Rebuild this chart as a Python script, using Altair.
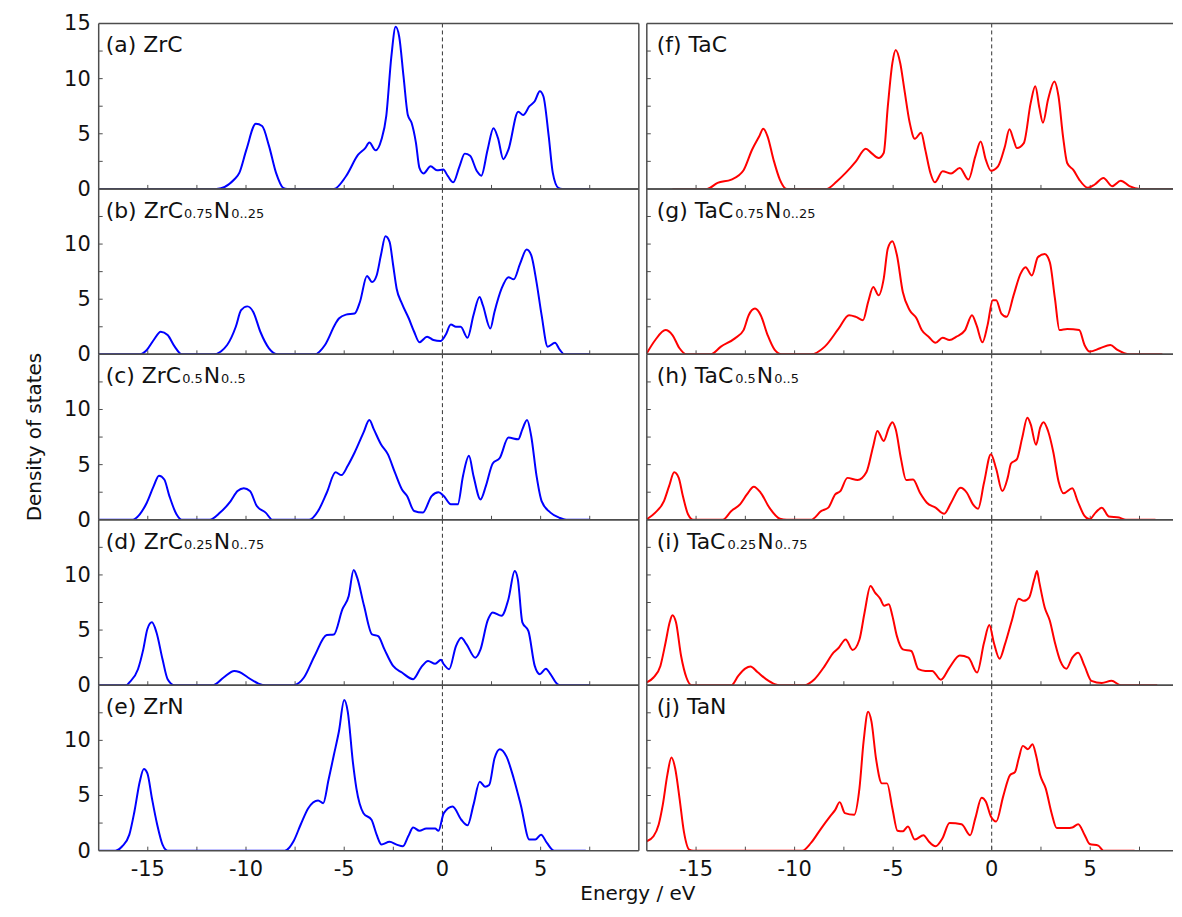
import altair as alt
import pandas as pd

FONT = "DejaVu Sans"
FRAME = "#4d4d4d"
TXT = "#111111"

# ---------------- data (Energy / eV, Density of states) ----------------
ZrC_E = [-17.5, -11.5, -10.6, -10.34, -9.98, -9.5, -9.18, -8.83, -8.47, -8.11, -7.9, -5.53, -4.91, -4.29,
         -3.93, -3.72, -3.4, -3.1, -2.86, -2.6, -2.38, -2.2, -1.98, -1.76, -1.57, -1.35, -1.17, -0.96, -0.6,
         -0.28, 0.04, 0.28, 0.55, 0.87, 1.14, 1.41, 1.76, 1.98, 2.3, 2.6, 2.83, 3.1, 3.36, 3.86, 4.11, 4.43,
         4.7, 4.96, 5.14, 5.41, 5.62, 5.9, 6.1, 7.5]
ZrC_D = [0, 0, 0.85, 1.45, 3.56, 5.9, 5.7, 3.9, 1.45, 0.1, 0, 0, 1.15, 3.1, 3.7, 4.2, 3.5, 4.5, 6.6, 12.0,
         14.7, 13.8, 10.2, 6.7, 6.0, 4.2, 1.9, 1.4, 2.05, 1.7, 1.75, 1.15, 0.6, 2.05, 3.2, 3.0, 1.6, 1.2,
         3.56, 5.5, 4.6, 2.7, 3.56, 7.0, 6.7, 7.5, 7.95, 8.85, 8.4, 4.8, 1.45, 0.1, 0, 0]

ZrC75_E = [-17.5, -15.4, -15.05, -14.7, -14.34, -13.99, -13.63, -13.27, -11.67, -10.96, -10.52, -10.25, -9.93,
           -9.63, -9.27, -8.83, -8.38, -6.51, -5.98, -5.44, -5.27, -4.91, -4.47, -4.2, -3.84, -3.58, -3.35,
           -3.13, -2.9, -2.69, -2.51, -2.33, -2.06, -1.71, -1.44, -1.17, -0.78, -0.46, -0.1, 0.16, 0.43, 0.69,
           0.93, 1.28, 1.58, 1.89, 2.06, 2.44, 2.65, 3.01, 3.36, 3.63, 3.95, 4.29, 4.52, 4.79, 5.05, 5.36,
           5.73, 5.98, 6.21, 7.5]
ZrC75_D = [0, 0, 0.4, 1.3, 2.05, 1.75, 0.7, 0, 0, 0.85, 2.5, 4.0, 4.35, 3.85, 2.05, 0.55, 0, 0, 0.85, 2.8,
           3.25, 3.6, 3.7, 4.75, 7.1, 6.55, 7.15, 9.0, 10.7, 10.2, 8.1, 5.95, 4.6, 3.25, 2.05, 1.1, 1.6, 1.3,
           1.2, 1.75, 2.7, 2.5, 2.5, 1.5, 3.55, 5.2, 4.45, 2.35, 3.85, 5.95, 7.0, 6.8, 8.2, 9.5, 9.0, 6.55,
           3.55, 0.7, 1.05, 0.4, 0, 0]

ZrC50_E = [-17.5, -15.77, -15.41, -15.05, -14.7, -14.43, -14.16, -13.9, -13.54, -13.27, -11.85, -11.32,
           -10.78, -10.43, -10.11, -9.8, -9.45, -9.0, -8.65, -6.78, -6.33, -5.89, -5.44, -5.14, -4.82, -4.47,
           -4.02, -3.72, -3.49, -3.13, -2.78, -2.42, -2.06, -1.8, -1.44, -1.0, -0.55, -0.2, 0.07, 0.43, 0.78,
           1.05, 1.35, 1.58, 1.94, 2.21, 2.56, 2.92, 3.36, 3.86, 4.07, 4.31, 4.52, 4.79, 5.05, 5.5, 5.94, 6.3,
           7.5]
ZrC50_D = [0, 0, 0.5, 1.55, 3.05, 4.0, 3.65, 2.15, 0.5, 0, 0, 0.65, 1.7, 2.6, 2.85, 2.6, 1.25, 0.65, 0, 0,
           0.8, 2.45, 4.3, 4.05, 4.9, 6.1, 7.9, 9.05, 8.2, 6.85, 5.95, 4.3, 2.75, 2.15, 0.8, 0.65, 2.15, 2.5,
           2.15, 1.4, 1.4, 4.0, 5.8, 4.0, 1.85, 3.05, 5.1, 5.6, 7.45, 7.3, 8.2, 9.05, 7.6, 4.0, 1.7, 0.65, 0.2,
           0, 0]

ZrC25_E = [-17.5, -16.1, -15.94, -15.5, -15.23, -15.02, -14.79, -14.56, -14.25, -13.99, -13.63, -11.67,
           -11.14, -10.6, -10.34, -9.9, -9.36, -9.0, -7.58, -7.05, -6.51, -5.89, -5.53, -5.09, -4.77, -4.52,
           -4.34, -3.99, -3.58, -3.27, -2.95, -2.51, -2.06, -1.49, -1.09, -0.73, -0.37, -0.07, 0.07, 0.34,
           0.69, 0.96, 1.23, 1.67, 1.94, 2.3, 2.56, 3.01, 3.36, 3.68, 3.84, 4.07, 4.38, 4.7, 4.96, 5.27, 5.5,
           5.85, 6.0, 7.5]
ZrC25_D = [0, 0, 0.25, 1.45, 3.25, 5.1, 5.7, 4.8, 2.35, 0.55, 0, 0, 0.7, 1.3, 1.2, 0.7, 0.15, 0, 0, 0.7,
           2.65, 4.55, 4.6, 6.9, 8.1, 10.45, 9.75, 7.2, 4.6, 4.45, 3.25, 1.75, 1.15, 0.55, 1.6, 2.2, 1.95,
           2.3, 1.9, 1.45, 3.55, 4.3, 3.7, 2.5, 3.25, 5.85, 6.6, 6.3, 7.8, 10.35, 9.6, 5.7, 4.9, 1.75, 1.0,
           1.5, 1.0, 0.1, 0, 0]

ZrN_E = [-17.5, -16.65, -16.3, -15.94, -15.68, -15.41, -15.2, -15.02, -14.79, -14.52, -14.25, -13.99, -8.02,
         -7.58, -7.22, -6.83, -6.33, -6.07, -5.8, -5.53, -5.27, -5.0, -4.82, -4.56, -4.38, -4.02, -3.61,
         -3.35, -3.1, -2.69, -2.33, -2.01, -1.74, -1.49, -1.17, -0.82, -0.37, -0.2, 0.07, 0.52, 0.96, 1.28,
         1.58, 1.9, 2.17, 2.38, 2.65, 2.92, 3.27, 3.63, 3.99, 4.43, 4.73, 5.02, 5.32, 5.68, 7.3]
ZrN_D = [0, 0, 0.4, 1.45, 3.55, 6.25, 7.4, 7.0, 4.75, 2.35, 0.55, 0, 0, 0.85, 2.35, 3.85, 4.55, 4.3, 6.4,
         8.65, 10.8, 13.65, 12.6, 8.05, 5.65, 3.4, 2.8, 1.45, 0.55, 0.8, 0.55, 0.4, 1.3, 2.1, 1.8, 2.0, 2.0,
         1.8, 3.4, 4.0, 2.8, 2.3, 4.15, 6.25, 5.8, 5.95, 8.35, 9.2, 8.5, 6.55, 4.15, 1.0, 1.0, 1.45, 0.7, 0, 0]

TaC_E = [-16.2, -14.44, -13.91, -13.21, -12.59, -12.16, -11.8, -11.59, -11.37, -11.07, -10.75, -10.4, -8.38,
         -7.85, -7.41, -6.89, -6.39, -6.1, -5.74, -5.48, -5.27, -5.04, -4.87, -4.64, -4.43, -4.16, -3.9,
         -3.58, -3.37, -3.11, -2.88, -2.49, -2.06, -1.62, -1.18, -0.83, -0.56, -0.3, -0.04, 0.32, 0.67, 0.9,
         1.11, 1.28, 1.63, 1.98, 2.21, 2.42, 2.6, 2.86, 3.18, 3.39, 3.62, 3.83, 4.15, 4.44, 4.88, 5.23, 5.67,
         6.11, 6.55, 6.99, 7.52, 9.19]
TaC_D = [0, 0, 0.55, 0.85, 1.7, 3.55, 4.75, 5.45, 4.75, 2.65, 0.85, 0, 0, 0.7, 1.45, 2.5, 3.65, 3.25, 2.8,
         3.25, 7.5, 11.4, 12.6, 11.4, 9.0, 6.0, 4.55, 5.1, 3.55, 1.45, 0.6, 1.6, 1.4, 1.9, 0.85, 2.95, 4.3,
         2.65, 1.65, 2.05, 3.85, 5.4, 4.45, 3.7, 4.15, 7.8, 9.3, 7.35, 6.0, 8.1, 9.75, 8.4, 4.75, 2.35, 1.7,
         0.85, 0.1, 0.4, 1.0, 0.25, 0.75, 0.25, 0, 0]

TaC75_E = [-17.5, -17.07, -16.55, -16.2, -15.84, -15.49, -14.26, -13.74, -13.03, -12.59, -12.33, -12.01,
           -11.72, -11.37, -11.01, -10.66, -9.17, -8.47, -7.76, -7.24, -6.89, -6.53, -6.27, -6.01, -5.74,
           -5.48, -5.27, -5.04, -4.81, -4.51, -4.16, -3.81, -3.55, -3.2, -2.85, -2.49, -2.14, -1.79, -1.35,
           -1.0, -0.77, -0.47, -0.21, 0.05, 0.23, 0.49, 0.76, 1.11, 1.46, 1.72, 2.04, 2.34, 2.69, 2.95, 3.21,
           3.44, 3.83, 4.44, 4.71, 4.97, 5.5, 6.02, 6.38, 6.99, 8.66]
TaC75_D = [0.1, 1.3, 2.2, 1.75, 0.55, 0, 0, 0.7, 1.45, 2.2, 3.55, 4.15, 3.55, 1.75, 0.4, 0, 0, 0.7, 2.35,
           3.55, 3.4, 3.1, 4.75, 6.1, 5.35, 6.85, 9.6, 10.25, 9.0, 5.65, 4.0, 3.25, 2.2, 1.6, 1.05, 1.5, 1.3,
           1.6, 2.2, 3.55, 2.65, 1.1, 2.65, 4.9, 4.9, 3.7, 3.4, 5.35, 7.3, 7.9, 7.15, 8.8, 9.1, 8.35, 5.05,
           2.2, 2.3, 2.2, 0.85, 0.25, 0.55, 0.85, 0.4, 0, 0]

TaC50_E = [-17.5, -17.07, -16.63, -16.37, -16.11, -15.88, -15.67, -15.41, -15.14, -13.65, -13.21, -12.77,
           -12.42, -12.07, -11.72, -11.28, -10.75, -10.4, -9.17, -8.64, -8.29, -7.94, -7.68, -7.32, -6.8,
           -6.36, -6.01, -5.8, -5.48, -5.22, -5.04, -4.87, -4.6, -4.34, -3.99, -3.64, -3.29, -2.85, -2.41,
           -2.06, -1.58, -1.26, -0.95, -0.69, -0.39, -0.04, 0.23, 0.54, 0.81, 0.98, 1.28, 1.55, 1.81, 1.98,
           2.25, 2.46, 2.63, 2.86, 3.13, 3.39, 3.65, 4.09, 4.36, 4.71, 4.97, 5.27, 5.59, 5.94, 6.46, 6.81, 8.31]
TaC50_D = [0.05, 0.65, 1.7, 3.05, 4.3, 3.8, 2.15, 0.5, 0, 0, 0.8, 1.4, 2.3, 3.0, 2.45, 1.1, 0.1, 0, 0, 0.8,
           1.1, 2.3, 2.6, 3.8, 3.6, 4.3, 6.7, 8.05, 7.15, 8.35, 8.85, 8.2, 5.5, 3.6, 3.65, 2.45, 1.55, 1.1,
           0.55, 1.55, 2.9, 2.45, 1.4, 1.0, 3.35, 5.95, 4.6, 2.6, 3.8, 5.1, 5.5, 7.45, 9.25, 8.65, 6.8, 8.35,
           8.85, 8.05, 6.1, 3.5, 2.4, 2.85, 1.7, 0.35, 0.05, 0.65, 1.1, 0.3, 0.2, 0, 0]

TaC25_E = [-17.5, -17.16, -16.81, -16.55, -16.34, -16.2, -16.02, -15.76, -15.49, -15.23, -13.21, -12.86,
           -12.51, -12.24, -11.89, -11.45, -11.01, -10.75, -9.52, -8.99, -8.47, -8.03, -7.76, -7.41, -7.06,
           -6.71, -6.45, -6.15, -5.92, -5.66, -5.45, -5.22, -5.04, -4.81, -4.51, -4.08, -3.72, -3.37, -3.02,
           -2.58, -2.14, -1.62, -1.18, -0.74, -0.39, -0.12, 0.11, 0.4, 0.67, 1.02, 1.37, 1.63, 1.9, 2.16, 2.3,
           2.42, 2.69, 2.95, 3.21, 3.48, 3.79, 4.09, 4.39, 4.71, 5.06, 5.59, 6.08, 6.55, 8.4]
TaC25_D = [0.25, 0.7, 1.75, 3.85, 5.7, 6.35, 5.7, 2.65, 0.7, 0, 0, 0.85, 1.5, 1.7, 1.2, 0.55, 0.1, 0, 0,
           0.55, 1.75, 2.95, 3.4, 4.15, 3.2, 4.15, 6.6, 9.0, 8.4, 7.85, 7.2, 7.35, 6.3, 4.45, 3.25, 3.1, 1.45,
           1.3, 1.3, 0.5, 1.6, 2.7, 2.5, 1.15, 3.85, 5.45, 3.85, 2.4, 3.7, 5.85, 7.85, 7.65, 7.95, 9.6, 10.35,
           9.3, 7.05, 5.85, 3.85, 2.2, 1.5, 2.5, 2.95, 1.75, 0.4, 0.2, 0.4, 0, 0]

TaN_E = [-17.5, -17.16, -16.9, -16.69, -16.46, -16.25, -16.06, -15.84, -15.62, -15.35, -15.14, -9.61, -9.17,
         -8.64, -8.2, -7.94, -7.71, -7.45, -6.98, -6.71, -6.5, -6.27, -6.1, -5.87, -5.57, -5.31, -5.04,
         -4.78, -4.51, -4.25, -3.9, -3.46, -3.2, -2.85, -2.49, -2.14, -1.53, -1.09, -0.83, -0.51, -0.3,
         -0.04, 0.23, 0.58, 0.93, 1.19, 1.37, 1.58, 1.84, 2.07, 2.25, 2.46, 2.74, 3.04, 3.3, 3.83, 4.09,
         4.39, 4.71, 4.97, 5.41, 5.67, 7.25]
TaN_D = [0.85, 1.3, 2.35, 4.15, 6.85, 8.45, 7.45, 4.75, 1.75, 0.1, 0, 0, 0.7, 2.05, 3.1, 3.7, 4.4, 3.4,
         3.25, 5.65, 9.9, 12.6, 11.7, 8.35, 6.1, 6.1, 3.85, 1.8, 1.75, 2.2, 1.0, 1.4, 0.85, 0.4, 1.15, 2.5,
         2.4, 1.4, 2.95, 4.8, 4.45, 3.1, 2.65, 4.9, 6.85, 7.15, 8.35, 9.5, 9.2, 9.65, 8.65, 6.85, 5.65, 3.4,
         2.05, 2.05, 2.1, 2.4, 1.45, 0.6, 0.45, 0, 0]

# panel labels: (text, is_subscript) segments
LABELS = {
    "a": [("(a) ZrC", 0)],
    "b": [("(b) ZrC", 0), ("0.75", 1), ("N", 0), ("0..25", 1)],
    "c": [("(c) ZrC", 0), ("0.5", 1), ("N", 0), ("0..5", 1)],
    "d": [("(d) ZrC", 0), ("0.25", 1), ("N", 0), ("0..75", 1)],
    "e": [("(e) ZrN", 0)],
    "f": [("(f) TaC", 0)],
    "g": [("(g) TaC", 0), ("0.75", 1), ("N", 0), ("0..25", 1)],
    "h": [("(h) TaC", 0), ("0.5", 1), ("N", 0), ("0..5", 1)],
    "i": [("(i) TaC", 0), ("0.25", 1), ("N", 0), ("0..75", 1)],
    "j": [("(j) TaN", 0)],
}

X_TICKS = [-15, -10, -5, 0, 5]
X_TICK_LABELS = ["-15", "-10", "-5", "0", "5"]
Y_TICKS_TOP = [0, 5, 10, 15]
Y_TICKS = [0, 5, 10]
MINOR_X = [-15, -12.5, -10, -7.5, -5, -2.5, 0, 2.5, 5, 7.5]
MINOR_Y = [2.5, 5, 7.5, 10, 12.5]
X_LEFT = [-17.5, 10.0]
X_RIGHT = [-17.5, 9.2]
Y_DOM = [0, 15]
X_TITLE = "Energy / eV"
Y_TITLE = "Density of states"

# ---------------- layout constants ----------------
W_L, W_R, H = 542, 528, 166
MAIN_FS, SUB_FS = 22, 13
TICK_FS = 21

ADV = {" ": 0.318, "(": 0.390, ")": 0.390, ".": 0.318, "a": 0.613, "b": 0.635, "c": 0.550, "d": 0.635,
       "e": 0.615, "f": 0.352, "g": 0.635, "h": 0.634, "i": 0.278, "j": 0.278, "r": 0.411, "Z": 0.685,
       "C": 0.698, "T": 0.611, "N": 0.748}
for _d in "0123456789":
    ADV[_d] = 0.636
KERN = {"Ta": -0.12}


def text_width(s, size):
    w = sum(ADV.get(ch, 0.6) for ch in s)
    for i in range(len(s) - 1):
        w += KERN.get(s[i:i + 2], 0)
    return w * size


def txt(s, x, y, fs, **kw):
    return alt.Chart(pd.DataFrame({"s": [s]})).mark_text(
        font=FONT, fontSize=fs, color=TXT, **kw).encode(
        text="s:N", x=alt.value(x), y=alt.value(y))


def edge(**enc):
    return alt.Chart(pd.DataFrame({"a": [0]})).mark_rule(color=FRAME, strokeWidth=1.5).encode(**enc)


def panel(key, E, D, color, xdom, width, bottom, top, left, x0, ytitle=False, xtitle=False):
    assert len(E) == len(D), (key, len(E), len(D))
    df = pd.DataFrame({"E": E, "D": D})
    xs = alt.Scale(domain=xdom, nice=False, zero=False)
    ys = alt.Scale(domain=Y_DOM, nice=False, zero=False)

    line = alt.Chart(df).mark_line(color=color, strokeWidth=2, interpolate="monotone", clip=True).encode(
        x=alt.X("E:Q", scale=xs, axis=None), y=alt.Y("D:Q", scale=ys, axis=None))

    zero = alt.Chart(pd.DataFrame({"z": [0]})).mark_rule(
        color="#333333", strokeWidth=1, strokeDash=[4, 3]).encode(
        x=alt.X("z:Q", scale=xs, axis=None))

    bt = alt.Chart(pd.DataFrame({"t": MINOR_X})).mark_rule(color=FRAME, strokeWidth=1).encode(
        x=alt.X("t:Q", scale=xs, axis=None), y=alt.value(H), y2=alt.value(H - 4))
    lt = alt.Chart(pd.DataFrame({"t": MINOR_Y})).mark_rule(color=FRAME, strokeWidth=1).encode(
        y=alt.Y("t:Q", scale=ys, axis=None), x=alt.value(0), x2=alt.value(4))

    frame = [edge(x=alt.value(0)), edge(y=alt.value(0)), edge(y=alt.value(H))]
    if left:
        frame.append(edge(x=alt.value(width)))

    layers = [zero, bt, lt, line] + frame

    if left:
        vals = Y_TICKS_TOP if top else Y_TICKS
        ylab = alt.Chart(pd.DataFrame({"v": vals, "s": [str(v) for v in vals]})).mark_text(
            font=FONT, fontSize=TICK_FS, color=TXT, align="right", baseline="middle", dy=1).encode(
            y=alt.Y("v:Q", scale=ys, axis=None), x=alt.value(-8), text="s:N")
        layers.append(ylab)
    if bottom:
        xlab = alt.Chart(pd.DataFrame({"v": X_TICKS, "s": X_TICK_LABELS})).mark_text(
            font=FONT, fontSize=TICK_FS, color=TXT, align="center", baseline="alphabetic").encode(
            x=alt.X("v:Q", scale=xs, axis=None), y=alt.value(H + 25), text="s:N")
        layers.append(xlab)
    if ytitle:
        layers.append(txt(Y_TITLE, -64, H / 2, 20, align="center", baseline="middle", angle=270))
    if xtitle:
        layers.append(txt(X_TITLE, 541, H + 49.5, 20, align="center", baseline="alphabetic"))

    cx = x0
    for seg, sub in LABELS[key]:
        fs = SUB_FS if sub else MAIN_FS
        layers.append(txt(seg, cx, 29, fs, align="left", baseline="alphabetic"))
        cx += text_width(seg, fs) + 1

    return alt.layer(*layers).properties(width=width, height=H)


BLUE, RED = "#0000ff", "#ff0000"
left_specs = [("a", ZrC_E, ZrC_D), ("b", ZrC75_E, ZrC75_D), ("c", ZrC50_E, ZrC50_D),
              ("d", ZrC25_E, ZrC25_D), ("e", ZrN_E, ZrN_D)]
right_specs = [("f", TaC_E, TaC_D), ("g", TaC75_E, TaC75_D), ("h", TaC50_E, TaC50_D),
               ("i", TaC25_E, TaC25_D), ("j", TaN_E, TaN_D)]

charts = []
for r in range(5):
    kl, El, Dl = left_specs[r]
    kr, Er, Dr = right_specs[r]
    charts.append(panel(kl, El, Dl, BLUE, X_LEFT, W_L, bottom=(r == 4), top=(r == 0), left=True, x0=7,
                        ytitle=(r == 2), xtitle=(r == 4)))
    charts.append(panel(kr, Er, Dr, RED, X_RIGHT, W_R, bottom=(r == 4), top=(r == 0), left=False, x0=10))

chart = alt.concat(*charts, columns=2, spacing={"row": 0, "column": 8}, bounds="flush",
                   align="each").properties(
    padding={"left": 17, "top": 4, "right": 0, "bottom": 0}
).configure(background="white").configure_view(strokeWidth=0, stroke=None)

chart.save("out.html", embed_options={"renderer": "svg", "actions": False})
